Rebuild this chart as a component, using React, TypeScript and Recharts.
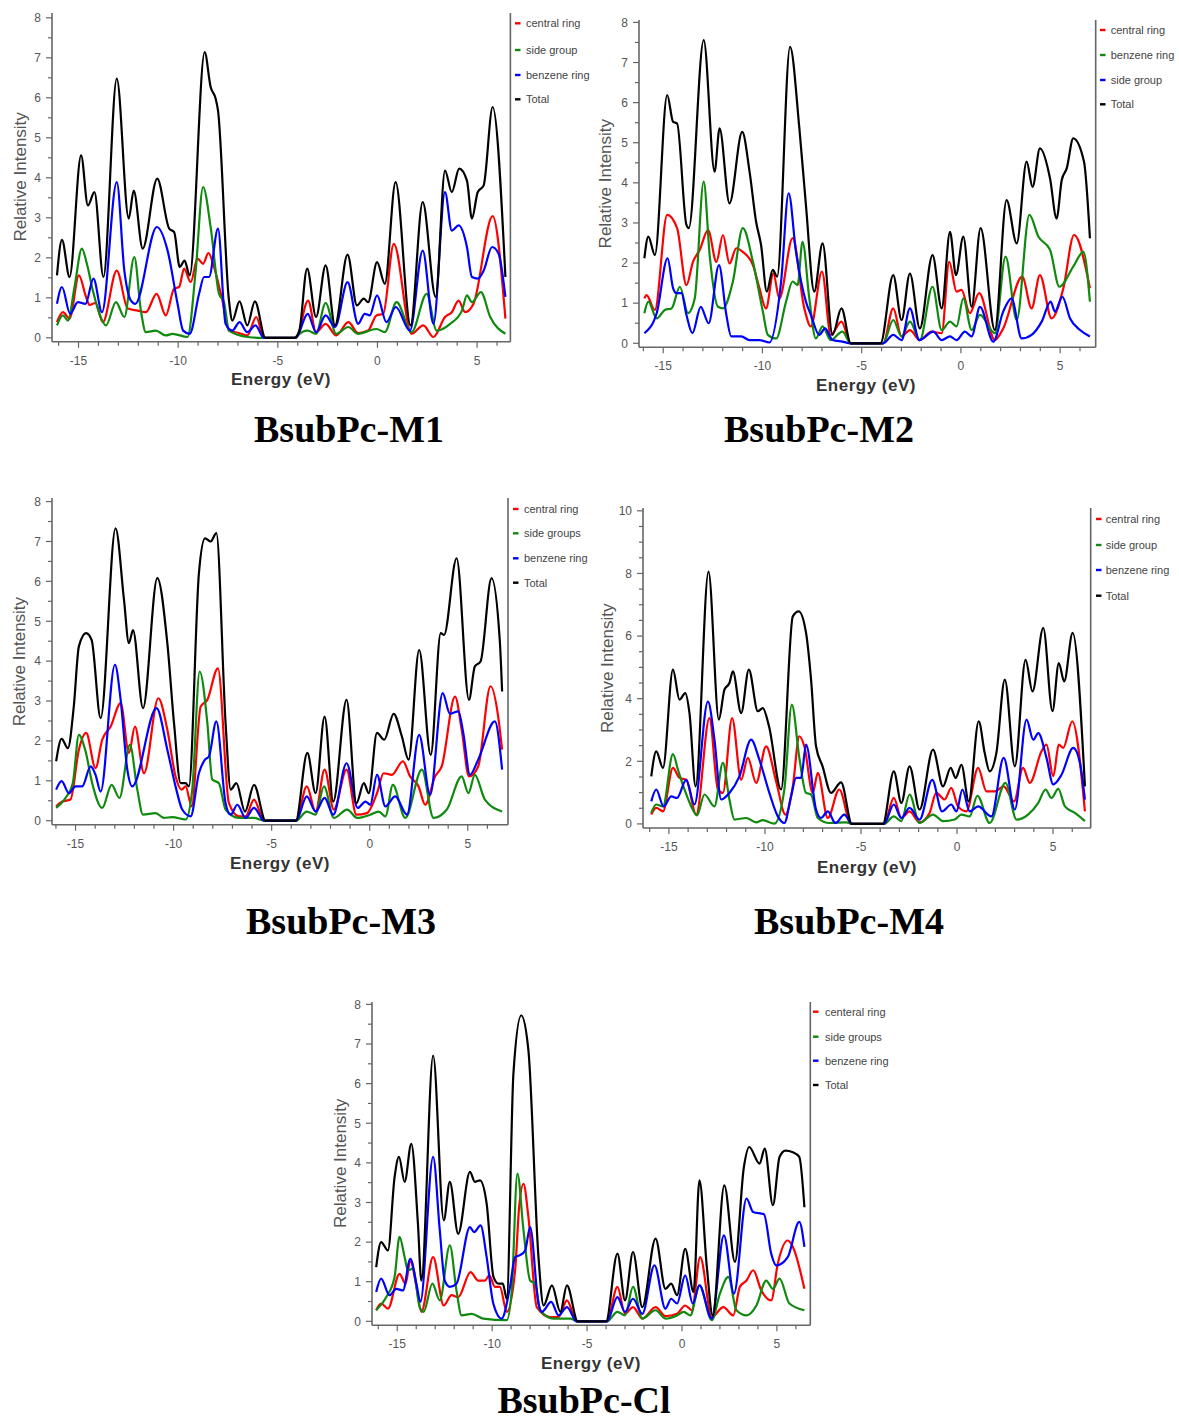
import React from 'react';
import { LineChart, Line, XAxis, YAxis, ReferenceLine } from 'recharts';

type Pt = [number, number];

// ---------- tick values ----------
const xTicks = [-16, -15, -14, -13, -12, -11, -10, -9, -8, -7, -6, -5, -4, -3, -2, -1, 0, 1, 2, 3, 4, 5, 6];
const yTicks8 = [0, 0.5, 1, 1.5, 2, 2.5, 3, 3.5, 4, 4.5, 5, 5.5, 6, 6.5, 7, 7.5, 8];
const yTicks10 = [0, 0.5, 1, 1.5, 2, 2.5, 3, 3.5, 4, 4.5, 5, 5.5, 6, 6.5, 7, 7.5, 8, 8.5, 9, 9.5, 10];

// ---------- legend labels ----------
const m1Legend = ['central ring', 'side group', 'benzene ring', 'Total'];
const m2Legend = ['central ring', 'benzene ring', 'side group', 'Total'];
const m3Legend = ['central ring', 'side groups', 'benzene ring', 'Total'];
const m4Legend = ['central ring', 'side group', 'benzene ring', 'Total'];
const clLegend = ['centeral ring', 'side groups', 'benzene ring', 'Total'];

// ---------- BsubPc-M1 (energy eV, relative intensity) ----------
const m1Central: Pt[] = [[-16.08,0.39],[-15.78,0.64],[-15.45,0.48],[-14.98,1.56],[-14.62,1.02],[-14.45,0.82],[-14.15,0.87],[-13.78,0.39],[-13.08,1.68],[-12.53,0.73],[-12.03,0.68],[-11.62,0.64],[-11.08,1.1],[-10.62,0.56],[-10.2,1.23],[-9.95,1.27],[-9.7,1.73],[-9.37,1.39],[-9.03,1.98],[-8.75,1.85],[-8.48,2.12],[-8.2,1.77],[-7.78,0.93],[-7.45,0.18],[-6.95,0.12],[-6.53,0.06],[-6.08,0.52],[-5.7,0],[-4.08,0],[-3.48,0.93],[-3.08,0.14],[-2.6,0.35],[-2.07,0.06],[-1.46,0.39],[-0.97,0.12],[-0.47,0.18],[-0.05,0.56],[0.29,0.6],[0.82,2.35],[1.71,0.1],[2.3,0.31],[2.81,0.02],[3.39,0.52],[3.73,0.64],[4.07,0.93],[4.4,0.64],[4.82,0.85],[5.78,3.04],[6.42,0.48]];
const m1Side: Pt[] = [[-16.08,0.31],[-15.78,0.56],[-15.53,0.43],[-15.2,1.27],[-14.83,2.23],[-14.58,1.85],[-14.28,1.18],[-13.95,0.6],[-13.62,0.31],[-13.12,0.89],[-12.7,0.52],[-12.2,2.02],[-11.87,0.68],[-11.62,0.14],[-11.12,0.18],[-10.62,0.06],[-10.28,0.1],[-9.53,0.02],[-9.12,1.68],[-8.75,3.77],[-8.37,2.77],[-7.95,1.1],[-7.7,0.89],[-7.45,0.18],[-6.5,0.02],[-5.8,0],[-4.1,0],[-4.0,0.06],[-3.5,0.18],[-3.08,0.1],[-2.6,0.87],[-2.07,0.1],[-1.46,0.27],[-0.97,0.1],[-0.05,0.22],[0.37,0.14],[0.96,0.89],[1.71,0.14],[2.47,1.1],[2.97,0.18],[3.65,0.35],[4.24,0.68],[4.49,1.06],[4.74,0.89],[5.19,1.14],[5.66,0.52],[6.42,0.1]];
const m1Benzene: Pt[] = [[-16.08,0.85],[-15.83,1.27],[-15.42,0.6],[-15.03,0.89],[-14.65,0.85],[-14.25,1.48],[-13.82,0.64],[-13.08,3.89],[-12.7,1.68],[-12.37,0.93],[-12.15,0.85],[-11.07,2.77],[-10.53,2.18],[-10.03,0.85],[-9.75,0.18],[-9.42,0.1],[-8.95,1.1],[-8.7,1.52],[-8.45,1.52],[-8.0,2.73],[-7.62,0.35],[-7.28,0.18],[-6.92,0.39],[-6.53,0.14],[-6.12,0.31],[-5.7,0],[-4.1,0],[-4.0,0.06],[-3.5,0.6],[-3.08,0.14],[-2.6,0.56],[-2.13,0.27],[-1.5,1.39],[-0.97,0.35],[-0.64,0.6],[-0.39,0.56],[-0.02,1.06],[0.45,0.39],[0.92,0.77],[1.63,0.18],[2.27,2.18],[2.81,0.35],[3.39,3.64],[3.73,2.68],[4.07,2.81],[4.49,2.27],[4.74,1.52],[5.03,1.48],[5.33,1.68],[5.75,2.27],[6.08,2.1],[6.42,1.02]];
const m1Total: Pt[] = [[-16.08,1.56],[-15.83,2.45],[-15.45,1.52],[-14.87,4.56],[-14.53,3.31],[-14.2,3.64],[-13.75,1.52],[-13.08,6.48],[-12.48,2.98],[-12.23,3.68],[-11.78,2.23],[-11.05,3.98],[-10.45,2.73],[-10.2,2.64],[-9.92,1.77],[-9.68,1.93],[-9.42,1.56],[-8.67,7.14],[-8.37,6.27],[-8.12,5.98],[-8.0,5.68],[-7.45,0.93],[-7.28,0.43],[-6.92,0.91],[-6.53,0.31],[-6.15,0.91],[-5.62,0],[-4.17,0],[-3.92,0.18],[-3.53,1.73],[-3.08,0.52],[-2.6,1.81],[-2.13,0.31],[-1.5,2.08],[-1.03,0.81],[-0.69,0.98],[-0.47,0.89],[-0.02,1.89],[0.37,1.35],[0.91,3.89],[1.66,0.31],[2.27,3.39],[2.92,1.02],[3.39,4.18],[3.73,3.64],[4.1,4.23],[4.49,3.93],[4.74,2.98],[5.03,3.64],[5.33,3.81],[5.78,5.77],[6.42,1.52]];

// ---------- BsubPc-M2 ----------
const m2Central: Pt[] = [[-15.95,1.12],[-15.84,1.2],[-15.42,0.83],[-14.8,3.2],[-14.3,2.87],[-13.83,1.45],[-13.5,2.03],[-13.16,2.33],[-12.74,2.82],[-12.32,2.03],[-11.99,2.7],[-11.66,1.99],[-11.32,2.37],[-10.99,2.28],[-10.48,1.95],[-10.15,1.37],[-9.82,0.87],[-9.45,1.74],[-9.15,1.12],[-8.48,2.62],[-7.89,0.87],[-7.56,0.42],[-7.0,1.79],[-6.56,0.21],[-6.02,0.54],[-5.55,0],[-3.92,0],[-3.41,0.87],[-2.99,0.17],[-2.57,0.33],[-2.07,0.08],[-1.48,0.29],[-0.97,0.25],[-0.59,2.03],[-0.22,1.29],[0.03,1.33],[0.45,0.75],[0.92,1.25],[1.71,0.08],[2.13,0.37],[3.09,1.66],[3.56,0.87],[3.98,1.7],[4.57,0.62],[5.16,1.37],[5.7,2.7],[6.5,1.37]];
const m2Benzene: Pt[] = [[-15.95,0.75],[-15.75,1.04],[-15.33,0.62],[-14.92,0.83],[-14.58,0.87],[-14.16,1.41],[-13.75,0.75],[-13.41,1.12],[-12.96,4.03],[-12.66,2.2],[-12.24,0.91],[-11.99,0.87],[-11.49,1.54],[-10.99,2.87],[-10.48,2.03],[-9.98,0.79],[-9.73,0.21],[-9.31,0.12],[-8.81,1.04],[-8.48,1.54],[-8.23,1.45],[-7.98,2.53],[-7.64,1.12],[-7.31,0.12],[-6.97,0.42],[-6.56,0.08],[-5.97,0.29],[-5.55,0],[-3.92,0],[-3.41,0.58],[-2.99,0.17],[-2.57,0.54],[-2.07,0.08],[-1.43,1.41],[-0.97,0.33],[-0.55,0.54],[-0.22,0.42],[0.12,1.12],[0.54,0.33],[0.96,0.71],[1.71,0.25],[2.25,2.16],[2.81,0.58],[3.45,3.2],[3.9,2.66],[4.49,2.33],[4.96,1.41],[5.66,1.91],[6.17,2.28],[6.5,1.04]];
const m2Side: Pt[] = [[-15.95,0.25],[-15.33,0.75],[-14.78,2.12],[-14.5,1.37],[-14.33,1.25],[-14.08,1.25],[-13.83,0.71],[-13.53,0.25],[-13.11,0.91],[-12.71,0.5],[-12.19,1.95],[-11.82,0.71],[-11.57,0.17],[-11.07,0.17],[-10.65,0.08],[-10.15,0.08],[-9.65,0.02],[-9.06,1.54],[-8.68,3.74],[-8.31,2.28],[-7.81,1.04],[-7.56,0.71],[-7.14,0.21],[-6.84,0.37],[-6.47,0.08],[-5.97,0.04],[-5.55,0],[-3.92,0],[-3.41,0.21],[-2.99,0.08],[-2.57,0.87],[-2.1,0.08],[-1.39,0.29],[-0.97,0.08],[-0.55,0.17],[-0.22,0.08],[0.2,0.29],[0.54,0.17],[0.96,0.91],[1.63,0.04],[2.13,0.79],[2.55,1.12],[3.06,0.12],[3.56,0.21],[4.07,0.54],[4.52,1.04],[4.74,0.79],[5.11,1.16],[5.5,0.62],[6.0,0.33],[6.5,0.17]];
const m2Total: Pt[] = [[-15.95,2.12],[-15.75,2.66],[-15.42,2.2],[-14.8,6.19],[-14.5,5.52],[-14.3,5.48],[-13.83,2.95],[-13.71,2.87],[-12.96,7.56],[-12.41,4.28],[-12.16,5.36],[-11.66,3.49],[-11.02,5.27],[-10.65,4.28],[-10.32,3.03],[-10.07,2.45],[-9.78,1.29],[-9.48,1.83],[-9.26,1.66],[-8.61,7.39],[-8.14,5.36],[-7.81,3.45],[-7.39,1.29],[-6.97,2.49],[-6.47,0.21],[-6.02,0.87],[-5.55,0],[-4.05,0],[-3.41,1.7],[-2.99,0.58],[-2.57,1.74],[-2.07,0.37],[-1.43,2.2],[-0.97,0.87],[-0.55,2.78],[-0.25,1.7],[0.12,2.66],[0.54,0.91],[0.99,2.87],[1.71,0.33],[2.3,3.57],[2.81,2.49],[3.31,4.53],[3.61,3.9],[3.98,4.86],[4.49,4.11],[4.82,3.11],[5.08,4.07],[5.33,4.36],[5.66,5.11],[6.2,4.53],[6.5,2.62]];

// ---------- BsubPc-M3 ----------
const m3Central: Pt[] = [[-15.99,0.36],[-15.68,0.48],[-15.26,0.53],[-14.83,1.78],[-14.46,2.2],[-13.98,1.32],[-13.64,2.03],[-13.21,2.36],[-12.7,2.95],[-12.28,1.7],[-11.97,2.36],[-11.51,1.19],[-10.78,3.07],[-10.32,2.28],[-9.9,1.11],[-9.59,0.78],[-9.39,0.86],[-9.08,0.36],[-8.62,2.86],[-8.28,3.03],[-7.74,3.82],[-7.18,0.44],[-6.67,0.11],[-6.33,0.11],[-5.9,0.53],[-5.39,0],[-3.75,0],[-3.21,0.86],[-2.76,0.23],[-2.3,1.28],[-1.83,0.28],[-1.18,1.28],[-0.68,0.15],[-0.14,0.19],[0.37,0.69],[0.71,1.19],[1.13,1.15],[1.69,1.49],[2.06,1.11],[2.49,0.86],[2.83,0.4],[3.33,1.11],[3.67,1.36],[4.35,3.11],[4.69,2.28],[5.06,1.11],[5.53,1.36],[6.16,3.37],[6.55,2.61],[6.75,1.78]];
const m3Side: Pt[] = [[-15.99,0.32],[-15.51,0.57],[-15.14,0.94],[-14.83,2.15],[-14.49,1.74],[-14.15,0.94],[-13.64,0.32],[-13.16,0.9],[-12.76,0.57],[-12.23,1.9],[-11.85,0.78],[-11.56,0.15],[-10.92,0.19],[-10.49,0.07],[-10.07,0.09],[-9.39,0.03],[-9.05,0.78],[-8.67,3.74],[-8.28,2.45],[-8.03,1.03],[-7.69,0.94],[-7.35,0.28],[-6.67,0.07],[-5.9,0.07],[-5.4,0],[-3.75,0],[-3.21,0.23],[-2.76,0.15],[-2.33,0.86],[-1.83,0.07],[-1.15,0.28],[-0.64,0.07],[0.03,0.15],[0.46,0.23],[0.8,0.11],[1.18,0.9],[1.81,0.07],[2.66,1.28],[3.25,0.07],[3.93,0.28],[4.69,1.11],[5.03,0.69],[5.36,1.15],[5.87,0.53],[6.75,0.23]];
const m3Benzene: Pt[] = [[-15.99,0.78],[-15.71,0.99],[-15.34,0.69],[-15.0,0.86],[-14.66,0.86],[-14.23,1.36],[-13.98,1.15],[-13.72,0.73],[-12.99,3.91],[-12.7,3.03],[-12.36,1.28],[-12.11,0.86],[-10.87,2.82],[-10.32,1.78],[-9.9,0.86],[-9.56,0.28],[-9.13,0.11],[-8.71,1.19],[-8.4,1.53],[-8.2,1.61],[-7.82,2.49],[-7.35,0.44],[-7.09,0.15],[-6.75,0.4],[-6.33,0.07],[-5.9,0.32],[-5.39,0],[-3.75,0],[-3.21,0.61],[-2.76,0.23],[-2.3,0.57],[-1.86,0.15],[-1.18,1.44],[-0.61,0.32],[-0.22,0.48],[0.03,0.4],[0.37,1.15],[0.8,0.36],[1.3,0.61],[1.9,0.15],[2.52,2.15],[3.08,0.65],[3.72,3.2],[4.09,2.68],[4.52,2.74],[4.77,2.2],[5.11,1.15],[5.53,1.53],[6.38,2.49],[6.75,1.28]];
const m3Total: Pt[] = [[-15.99,1.49],[-15.71,2.05],[-15.39,1.82],[-15.09,2.86],[-14.83,4.37],[-14.46,4.7],[-14.18,4.53],[-13.72,2.57],[-12.96,7.33],[-12.53,5.54],[-12.28,4.45],[-12.07,4.78],[-11.56,2.82],[-10.83,6.08],[-10.32,4.45],[-9.98,2.45],[-9.64,0.94],[-9.39,0.94],[-9.22,0.86],[-8.71,6.2],[-8.4,7.08],[-8.11,7.0],[-7.82,7.21],[-7.35,2.45],[-7.09,0.78],[-6.8,0.94],[-6.36,0.23],[-5.9,0.9],[-5.31,0],[-3.77,0],[-3.18,1.7],[-2.76,0.69],[-2.3,2.61],[-1.86,0.48],[-1.18,3.03],[-0.68,0.44],[-0.3,0.94],[-0.05,0.69],[0.37,2.2],[0.74,2.03],[1.22,2.68],[1.64,2.11],[1.98,1.53],[2.52,4.28],[3.11,1.65],[3.62,4.7],[3.79,4.66],[4.43,6.58],[5.06,3.03],[5.36,3.87],[5.65,3.99],[6.21,6.08],[6.63,4.53],[6.75,3.24]];

// ---------- BsubPc-M4 ----------
const m4Central: Pt[] = [[-15.92,0.3],[-15.66,0.51],[-15.31,0.4],[-14.79,1.79],[-14.45,1.47],[-14.1,1.41],[-13.58,0.3],[-12.89,3.38],[-12.45,1.1],[-12.19,0.99],[-11.71,3.38],[-11.24,1.41],[-10.89,2.11],[-10.46,1.31],[-9.94,2.48],[-9.42,1.36],[-8.93,0.3],[-8.55,1.2],[-8.21,2.8],[-7.95,2.48],[-7.51,0.99],[-7.25,1.63],[-6.73,0.19],[-6.13,1.1],[-5.52,0],[-3.8,0],[-3.29,0.83],[-2.9,0.19],[-2.47,0.4],[-1.95,0.05],[-1.43,0.35],[-1.08,0.99],[-0.64,0.78],[-0.3,1.15],[0.05,0.56],[0.49,0.4],[1.1,1.79],[1.53,1.04],[1.97,1.04],[2.43,1.2],[2.97,0.72],[3.44,1.79],[3.79,1.31],[4.4,2.32],[4.66,2.53],[5.01,1.52],[5.3,2.53],[5.53,2.43],[6.0,3.28],[6.66,0.4]];
const m4Side: Pt[] = [[-15.92,0.35],[-15.66,0.62],[-15.31,0.56],[-14.79,2.23],[-14.53,1.73],[-14.19,1.1],[-13.84,0.56],[-13.54,0.27],[-13.15,0.94],[-12.63,0.56],[-12.19,1.95],[-11.85,0.78],[-11.59,0.14],[-10.98,0.19],[-10.46,0.05],[-10.11,0.12],[-9.51,0.01],[-8.99,1.1],[-8.6,3.81],[-8.21,2.11],[-7.86,0.99],[-7.6,0.94],[-7.25,0.19],[-6.65,0.03],[-5.78,0.05],[-5.4,0],[-3.8,0],[-3.29,0.24],[-2.9,0.09],[-2.47,0.94],[-1.95,0.03],[-1.25,0.3],[-0.73,0.09],[-0.12,0.14],[0.23,0.3],[0.66,0.24],[1.06,0.9],[1.7,0.03],[2.52,1.31],[3.1,0.14],[3.7,0.3],[4.23,0.67],[4.61,1.1],[4.92,0.83],[5.27,1.12],[5.62,0.56],[6.14,0.35],[6.66,0.09]];
const m4Benzene: Pt[] = [[-15.92,0.72],[-15.66,1.1],[-15.28,0.56],[-14.88,0.88],[-14.58,0.83],[-14.1,1.41],[-13.67,0.62],[-12.97,3.91],[-12.63,2.69],[-12.28,0.78],[-11.85,0.99],[-11.33,1.52],[-10.72,2.69],[-10.29,2.05],[-9.77,0.99],[-9.33,0.24],[-8.99,0.03],[-8.64,0.88],[-8.38,1.47],[-8.12,1.47],[-7.86,2.53],[-7.34,0.46],[-7.08,0.19],[-6.73,0.4],[-6.33,0.03],[-5.87,0.3],[-5.47,0],[-3.8,0],[-3.29,0.62],[-2.9,0.19],[-2.47,0.51],[-1.95,0.14],[-1.29,1.41],[-0.78,0.4],[-0.3,0.62],[-0.03,0.4],[0.28,1.1],[0.66,0.4],[1.1,0.56],[1.79,0.24],[2.43,2.11],[3.01,0.46],[3.62,3.33],[3.97,2.69],[4.23,2.9],[4.66,2.11],[5.01,1.26],[5.44,1.57],[6.05,2.43],[6.4,1.95],[6.66,0.78]];
const m4Total: Pt[] = [[-15.92,1.52],[-15.66,2.32],[-15.31,1.79],[-14.79,4.93],[-14.45,3.97],[-14.15,4.18],[-13.93,3.54],[-13.61,1.2],[-12.94,8.06],[-12.4,3.33],[-12.11,4.29],[-11.85,4.5],[-11.67,4.87],[-11.24,3.54],[-10.84,4.93],[-10.37,3.6],[-10.11,3.7],[-9.79,3.12],[-9.16,1.1],[-8.55,6.63],[-8.24,6.79],[-7.86,6.1],[-7.6,4.61],[-7.34,2.48],[-7.0,1.84],[-6.56,0.99],[-6.04,1.33],[-5.47,0],[-3.86,0],[-3.29,1.68],[-2.9,0.67],[-2.47,1.84],[-1.95,0.46],[-1.25,2.37],[-0.73,1.2],[-0.33,1.79],[-0.07,1.47],[0.23,1.89],[0.61,0.72],[1.13,3.28],[1.44,2.27],[1.7,1.68],[2.05,2.27],[2.49,4.61],[3.01,1.84],[3.57,5.24],[3.93,4.23],[4.49,6.26],[4.97,3.6],[5.3,5.14],[5.58,4.55],[6.02,6.1],[6.66,1.2]];

// ---------- BsubPc-Cl ----------
const clCentral: Pt[] = [[-16.11,0.28],[-15.85,0.45],[-15.49,0.32],[-14.88,1.2],[-14.56,0.95],[-14.31,1.54],[-13.99,0.87],[-13.73,0.24],[-13.11,1.62],[-12.55,0.4],[-12.14,0.66],[-11.79,0.61],[-11.14,1.24],[-10.73,1.03],[-10.38,1.03],[-10.15,1.16],[-9.85,0.87],[-9.59,0.87],[-9.23,0.24],[-8.79,1.29],[-8.58,2.88],[-8.35,3.47],[-8.09,2.63],[-7.65,0.36],[-6.94,0.11],[-6.5,0.11],[-6.06,0.53],[-5.55,0],[-3.95,0],[-3.4,0.87],[-3.0,0.19],[-2.58,0.36],[-2.09,0.07],[-1.39,0.36],[-0.87,0.13],[-0.26,0.19],[0.17,0.4],[0.52,0.28],[0.96,1.62],[1.57,0.11],[2.18,0.36],[2.7,0.15],[3.05,0.87],[3.4,1.03],[3.75,1.29],[4.18,0.78],[4.7,0.53],[5.05,1.46],[5.57,2.04],[5.84,1.88],[6.45,0.82]];
const clSide: Pt[] = [[-16.11,0.28],[-15.58,0.61],[-15.14,1.12],[-14.88,2.13],[-14.61,1.62],[-14.44,1.29],[-14.17,1.33],[-13.82,0.36],[-13.61,0.24],[-13.15,0.95],[-12.76,0.53],[-12.23,1.92],[-11.88,0.78],[-11.61,0.15],[-11.08,0.19],[-10.47,0.07],[-9.23,0.03],[-8.97,0.78],[-8.67,3.73],[-8.35,2.3],[-8.0,1.03],[-7.73,0.95],[-7.47,0.28],[-6.76,0.07],[-5.88,0.07],[-5.5,0],[-3.95,0],[-3.4,0.24],[-3.0,0.15],[-2.58,0.87],[-2.09,0.07],[-1.39,0.28],[-0.87,0.07],[-0.26,0.15],[0.09,0.24],[0.44,0.15],[0.92,0.91],[1.57,0.03],[2.0,0.7],[2.44,1.12],[2.87,0.28],[3.4,0.15],[3.92,0.4],[4.44,1.03],[4.79,0.82],[5.14,1.08],[5.66,0.45],[6.45,0.28]];
const clBenzene: Pt[] = [[-16.11,0.74],[-15.85,1.08],[-15.41,0.66],[-15.05,0.82],[-14.7,0.78],[-14.31,1.58],[-13.99,0.95],[-13.78,0.49],[-13.11,4.15],[-12.76,2.3],[-12.5,1.03],[-12.23,0.87],[-11.88,0.95],[-11.17,2.38],[-10.96,2.25],[-10.61,2.42],[-10.29,1.62],[-9.94,0.45],[-9.5,0.07],[-9.06,0.87],[-8.79,1.62],[-8.53,1.67],[-8.26,1.79],[-8.0,2.38],[-7.56,0.45],[-7.38,0.24],[-6.89,0.49],[-6.5,0.15],[-6.06,0.36],[-5.55,0],[-3.95,0],[-3.4,0.61],[-3.0,0.24],[-2.58,0.57],[-2.09,0.19],[-1.45,1.41],[-0.87,0.32],[-0.57,0.57],[-0.26,0.45],[0.17,1.16],[0.57,0.45],[0.92,0.91],[1.57,0.07],[2.21,2.17],[2.74,0.7],[3.4,3.1],[3.75,2.76],[4.32,2.7],[4.7,1.71],[4.97,1.41],[5.57,1.62],[6.18,2.51],[6.45,1.88]];
const clTotal: Pt[] = [[-16.11,1.37],[-15.85,2.0],[-15.49,1.79],[-15.14,3.64],[-14.91,4.15],[-14.61,3.52],[-14.26,4.48],[-13.91,2.46],[-13.73,1.03],[-13.11,6.71],[-12.55,2.55],[-12.23,3.52],[-11.79,2.21],[-11.17,3.77],[-10.91,3.52],[-10.64,3.56],[-10.29,2.97],[-9.93,1.12],[-9.67,0.95],[-9.44,0.95],[-9.23,0.57],[-8.88,6.25],[-8.47,7.72],[-8.09,6.84],[-7.56,1.62],[-7.29,0.4],[-6.85,0.91],[-6.41,0.24],[-6.06,0.91],[-5.49,0],[-4.0,0],[-3.4,1.71],[-3.0,0.53],[-2.58,1.75],[-2.09,0.36],[-1.39,2.09],[-0.87,0.82],[-0.57,0.95],[-0.26,0.66],[0.17,1.83],[0.61,0.74],[0.92,3.56],[1.31,1.37],[1.62,0.15],[2.23,3.43],[2.79,1.5],[3.26,3.89],[3.54,4.4],[4.09,3.98],[4.36,4.36],[4.79,2.93],[5.14,4.15],[5.45,4.31],[5.84,4.27],[6.18,4.15],[6.45,2.88]];

// ---------- styling ----------
const RED = '#ff0000';
const GREEN = '#0f8a0f';
const BLUE = '#0000ff';
const BLACK = '#000000';
const AXIS = '#666666';
const TICK_TXT = '#555555';
const SANS = '"Liberation Sans", Arial, sans-serif';
const SERIF = '"Liberation Serif", "Times New Roman", serif';

const YAW = 50;
const XAH = 40;
const TM = 4;
const RM = 4;

type Series = { data: Pt[]; color: string };
type PanelCfg = {
  l: number; r: number; t: number; b: number;
  xDom: [number, number]; yDom: [number, number];
  yTicks: number[]; yStep: number;
  series: Series[]; legend: string[];
  legendDashX: number; legendTextX: number; legendRows: number[];
  yLabelX: number; xLabelX: number; xLabelY: number;
  title: string; titleX: number; titleY: number;
};

const panels: PanelCfg[] = [
  {
    l: 52.3, r: 510.7, t: 12.5, b: 341.3, xDom: [-16.33, 6.67], yDom: [-0.1, 8.12], yTicks: yTicks8, yStep: 1,
    series: [{ data: m1Central, color: RED }, { data: m1Side, color: GREEN }, { data: m1Benzene, color: BLUE }, { data: m1Total, color: BLACK }],
    legend: m1Legend, legendDashX: 515, legendTextX: 526, legendRows: [23.3, 50, 75, 99.3],
    yLabelX: 26.5, xLabelX: 281, xLabelY: 385, title: 'BsubPc-M1', titleX: 349, titleY: 442,
  },
  {
    l: 639.3, r: 1096, t: 20, b: 347.3, xDom: [-16.22, 6.79], yDom: [-0.1, 8.06], yTicks: yTicks8, yStep: 1,
    series: [{ data: m2Central, color: RED }, { data: m2Benzene, color: GREEN }, { data: m2Side, color: BLUE }, { data: m2Total, color: BLACK }],
    legend: m2Legend, legendDashX: 1100, legendTextX: 1110.7, legendRows: [30, 55, 80, 104.3],
    yLabelX: 611, xLabelX: 866, xLabelY: 391, title: 'BsubPc-M2', titleX: 819, titleY: 442,
  },
  {
    l: 52.3, r: 508.3, t: 498.3, b: 825, xDom: [-16.2, 7.05], yDom: [-0.1, 8.09], yTicks: yTicks8, yStep: 1,
    series: [{ data: m3Central, color: RED }, { data: m3Side, color: GREEN }, { data: m3Benzene, color: BLUE }, { data: m3Total, color: BLACK }],
    legend: m3Legend, legendDashX: 513, legendTextX: 524, legendRows: [509, 533.3, 558.3, 582.7],
    yLabelX: 25.5, xLabelX: 280, xLabelY: 869, title: 'BsubPc-M3', titleX: 341, titleY: 934,
  },
  {
    l: 643.3, r: 1091, t: 508.3, b: 828.3, xDom: [-16.35, 6.96], yDom: [-0.13, 10.09], yTicks: yTicks10, yStep: 2,
    series: [{ data: m4Central, color: RED }, { data: m4Side, color: GREEN }, { data: m4Benzene, color: BLUE }, { data: m4Total, color: BLACK }],
    legend: m4Legend, legendDashX: 1096, legendTextX: 1105.7, legendRows: [519, 545, 570, 595.7],
    yLabelX: 613, xLabelX: 867, xLabelY: 873, title: 'BsubPc-M4', titleX: 849, titleY: 934,
  },
  {
    l: 371.7, r: 810, t: 1001.7, b: 1325, xDom: [-16.33, 6.76], yDom: [-0.1, 8.06], yTicks: yTicks8, yStep: 1,
    series: [{ data: clCentral, color: RED }, { data: clSide, color: GREEN }, { data: clBenzene, color: BLUE }, { data: clTotal, color: BLACK }],
    legend: clLegend, legendDashX: 813, legendTextX: 825, legendRows: [1011.7, 1036.7, 1060.7, 1085],
    yLabelX: 346.5, xLabelX: 591, xLabelY: 1369, title: 'BsubPc-Cl', titleX: 584, titleY: 1413,
  },
];

const isMult = (v: number, s: number) => Math.abs(v / s - Math.round(v / s)) < 1e-6;

const makeXTick = () => (props: any) => {
  const { x, y, payload } = props;
  const v = payload.value as number;
  const major = isMult(v, 5);
  return (
    <g>
      <line x1={x} x2={x} y1={y} y2={y + (major ? 6 : 4)} stroke={AXIS} strokeWidth={1.2} />
      {major ? (
        <text x={x} y={y + 23} textAnchor="middle" fontSize={12} fontFamily={SANS} fill={TICK_TXT}>{String(v)}</text>
      ) : null}
    </g>
  );
};

const makeYTick = (step: number) => (props: any) => {
  const { x, y, payload } = props;
  const v = payload.value as number;
  const major = isMult(v, step);
  return (
    <g>
      <line x1={x - (major ? 6 : 4)} x2={x} y1={y} y2={y} stroke={AXIS} strokeWidth={1.2} />
      {major ? (
        <text x={x - 11} y={y + 4.3} textAnchor="end" fontSize={12} fontFamily={SANS} fill={TICK_TXT}>{String(v)}</text>
      ) : null}
    </g>
  );
};

function Panel({ p }: { p: PanelCfg }) {
  const w = p.r - p.l;
  const h = p.b - p.t;
  return (
    <div style={{ position: 'absolute', left: p.l - YAW, top: p.t - TM }}>
      <LineChart width={w + YAW + RM} height={h + TM + XAH} margin={{ top: TM, right: RM, left: 0, bottom: 0 }}>
        <XAxis
          type="number" dataKey="e" domain={p.xDom} allowDataOverflow ticks={xTicks} interval={0}
          tickSize={0} tickMargin={0} tickLine={false} height={XAH}
          axisLine={{ stroke: AXIS, strokeWidth: 1.6 }} tick={makeXTick()}
        />
        <YAxis
          type="number" domain={p.yDom} allowDataOverflow ticks={p.yTicks} interval={0}
          tickSize={0} tickMargin={0} tickLine={false} width={YAW}
          axisLine={{ stroke: AXIS, strokeWidth: 1.6 }} tick={makeYTick(p.yStep)}
        />
        <ReferenceLine x={p.xDom[1]} stroke={AXIS} strokeWidth={1.6} ifOverflow="visible" />
        {p.series.map((s, i) => (
          <Line
            key={i}
            data={s.data.map(([e, v]) => ({ e, v }))}
            dataKey="v"
            type="monotone"
            stroke={s.color}
            strokeWidth={2.2}
            strokeLinejoin="round"
            dot={false}
            activeDot={false}
            isAnimationActive={false}
          />
        ))}
      </LineChart>
    </div>
  );
}

function Overlay() {
  return (
    <svg width={1179} height={1424} style={{ position: 'absolute', left: 0, top: 0, pointerEvents: 'none' }}>
      {panels.map((p, pi) => (
        <g key={pi}>
          <text
            x={p.yLabelX} y={(p.t + p.b) / 2} transform={`rotate(-90 ${p.yLabelX} ${(p.t + p.b) / 2})`}
            textAnchor="middle" fontSize={17} fontFamily={SANS} fill="#555555"
          >Relative Intensity</text>
          <text x={p.xLabelX} y={p.xLabelY} textAnchor="middle" fontSize={17} fontWeight="bold" letterSpacing={0.5} fontFamily={SANS} fill="#333333">Energy (eV)</text>
          <text x={p.titleX} y={p.titleY} textAnchor="middle" fontSize={38} fontWeight="bold" fontFamily={SERIF} fill="#000000">{p.title}</text>
          {p.legend.map((name, i) => (
            <g key={i}>
              <line x1={p.legendDashX} x2={p.legendDashX + 5.5} y1={p.legendRows[i]} y2={p.legendRows[i]} stroke={p.series[i].color} strokeWidth={2.4} />
              <text x={p.legendTextX} y={p.legendRows[i] + 4} fontSize={11} fontFamily={SANS} fill="#444444">{name}</text>
            </g>
          ))}
        </g>
      ))}
    </svg>
  );
}

export default function App() {
  return (
    <div style={{ position: 'absolute', left: 0, top: 0, width: 1179, height: 1424, background: '#ffffff', overflow: 'hidden' }}>
      {panels.map((p, i) => (
        <Panel key={i} p={p} />
      ))}
      <Overlay />
    </div>
  );
}
